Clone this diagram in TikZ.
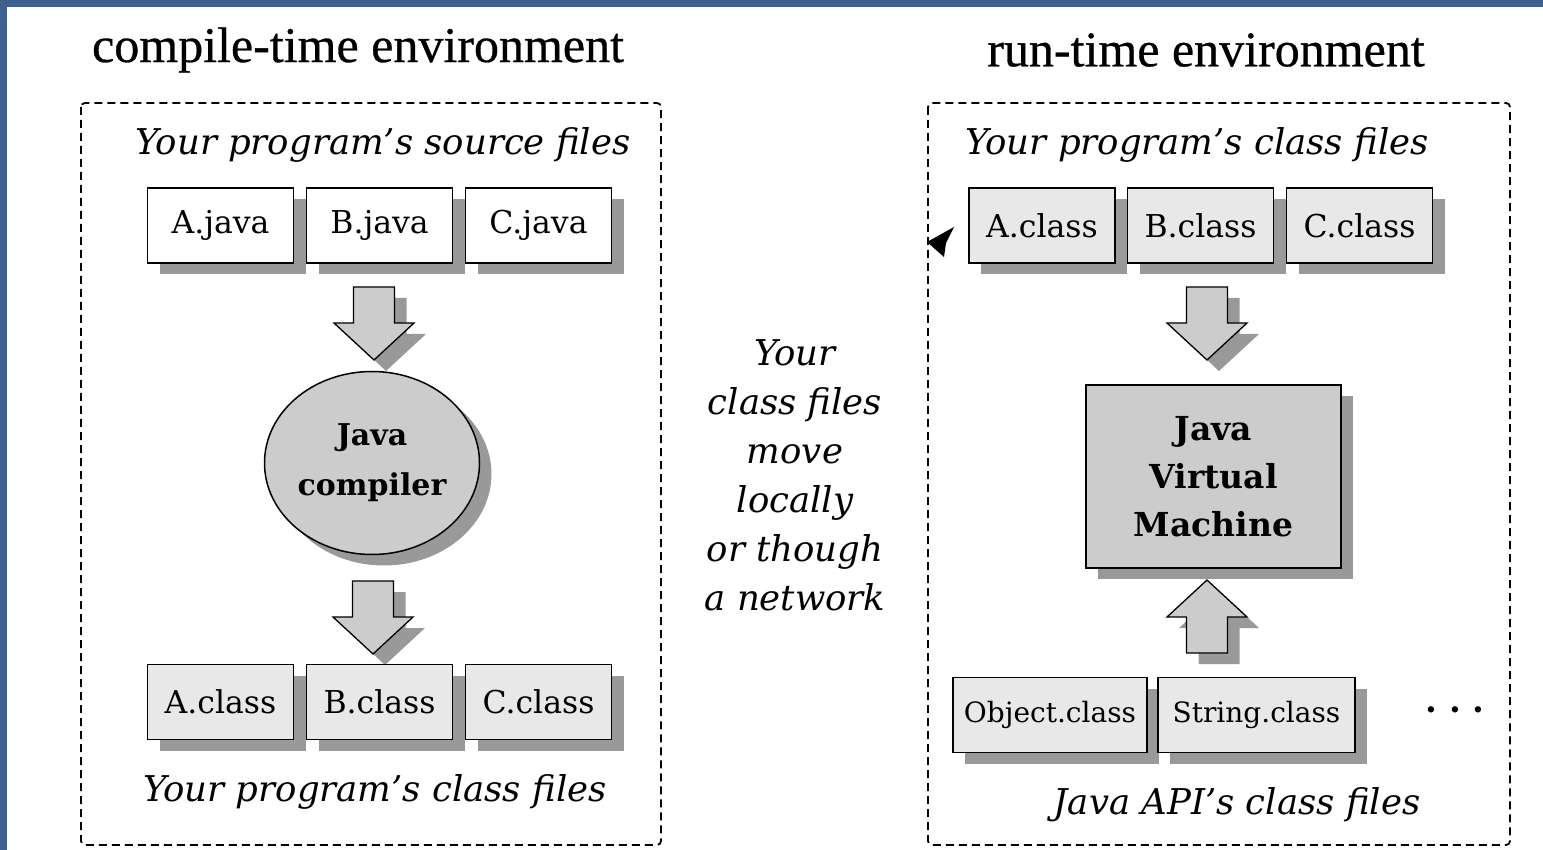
\documentclass[tikz,border=0pt]{standalone}
\usepackage{fontspec}
\setmainfont{DejaVu Serif}
\newfontfamily\headfont[FakeBold=0.6]{Liberation Serif}
\usetikzlibrary{shapes.geometric,shadows}

\definecolor{frameblue}{RGB}{64,96,140}
\definecolor{boxgray}{RGB}{232,232,232}
\definecolor{midgray}{RGB}{204,204,204}
\definecolor{shadowgray}{RGB}{153,153,153}

\tikzset{
  boxshadow/.style={drop shadow={shadow xshift=12pt, shadow yshift=-11pt, fill=shadowgray, opacity=1}},
  heading/.style={font=\headfont\fontsize{50}{60}\selectfont},
  note/.style={font=\itshape\fontsize{35.5}{42}\selectfont},
  envbox/.style={line width=1.8pt, dash pattern=on 8pt off 5pt, rounded corners=4pt},
  javabox/.style={draw, line width=1.6pt, fill=white, minimum width=146pt, minimum height=75pt,
                  inner sep=0pt, font=\fontsize{31.5}{36}\selectfont, boxshadow},
  classbox/.style={javabox, fill=boxgray},
  apibox/.style={classbox, font=\fontsize{28}{34}\selectfont},
  fatline/.style={draw, line width=1.3pt, fill=midgray, line join=miter, boxshadow},
  % #1 = 1 points down, -1 points up
  pics/fatarrow/.style={code={
    \draw[fatline] (-20.5,{-36*#1}) -- (20.5,{-36*#1}) -- (20.5,0) -- (40,0) -- (0,{37*#1})
      -- (-40,0) -- (-20.5,0) -- cycle;
  }},
  compiler/.style={ellipse, draw, line width=1.5pt, fill=midgray, minimum width=215pt,
                   minimum height=183pt, inner sep=0pt, align=center,
                   font=\bfseries\fontsize{30}{50}\selectfont, boxshadow},
  jvmbox/.style={draw, line width=1.5pt, fill=midgray, minimum width=255pt, minimum height=183pt,
                 inner sep=0pt, align=center, font=\bfseries\fontsize{33}{48}\selectfont, boxshadow}
}

\begin{document}
\begin{tikzpicture}[x=1pt, y=-1pt]
  % frame
  \useasboundingbox (0,0) rectangle (1543,850);
  \fill[frameblue] (0,0) rectangle (1543,7);
  \fill[frameblue] (0,0) rectangle (7,850);

  % headings
  \node[heading] (ctitle) at (358,50) {compile-time environment};
  \node[heading] (rtitle) at (1206,50) {run-time environment};

  % dashed environments
  \draw[envbox] (81,103) rectangle (661,845);
  \draw[envbox] (928,103) rectangle (1510,845);

  % compile-time side
  \node[note] (srcnote) at (383,145) {Your program's source files};
  \node[javabox] (ajava) at (220.5,225.5) {A.java};
  \node[javabox] (bjava) at (379.5,225.5) {B.java};
  \node[javabox] (cjava) at (538.5,225.5) {C.java};
  \pic (cdown1) at (374,323) {fatarrow=1};
  \node[compiler] (javac) at (372,463) {Java\\compiler};
  \pic (cdown2) at (373,617) {fatarrow=1};
  \node[classbox] (aclass) at (220.5,702) {A.class};
  \node[classbox] (bclass) at (379.5,702) {B.class};
  \node[classbox] (cclass) at (538.5,702) {C.class};
  \node[note] (cnote) at (375,792) {Your program's class files};

  % in between
  \node[note, align=center, font=\itshape\fontsize{35.5}{49}\selectfont] (movenote) at (795,475)
    {Your\\class files\\move\\locally\\or though\\a network};

  % run-time side
  \node[note] (rnote) at (1197,145) {Your program's class files};
  \node[classbox] (ra) at (1042,225.5) {A.class};
  \node[classbox] (rb) at (1200.5,225.5) {B.class};
  \node[classbox] (rc) at (1359.5,225.5) {C.class};
  \pic (rdown) at (1207,323) {fatarrow=1};
  \node[jvmbox] (jvm) at (1213.5,476.5) {Java\\Virtual\\Machine};
  \pic (rup) at (1207,617) {fatarrow=-1};
  \node[apibox, minimum width=194pt] (objcls) at (1050,715) {Object.class};
  \node[apibox, minimum width=197pt] (strcls) at (1256.5,715) {String.class};
  \node[font=\bfseries\fontsize{34}{40}\selectfont] (more) at (1455,710) {.\,\,.\,\,.};
  \node[note] (apinote) at (1237,805) {Java API's class files};

  % pointer
  \fill (927,242) -- (954,227) -- (946,243) -- (944,257) -- cycle;
\end{tikzpicture}
\end{document}
